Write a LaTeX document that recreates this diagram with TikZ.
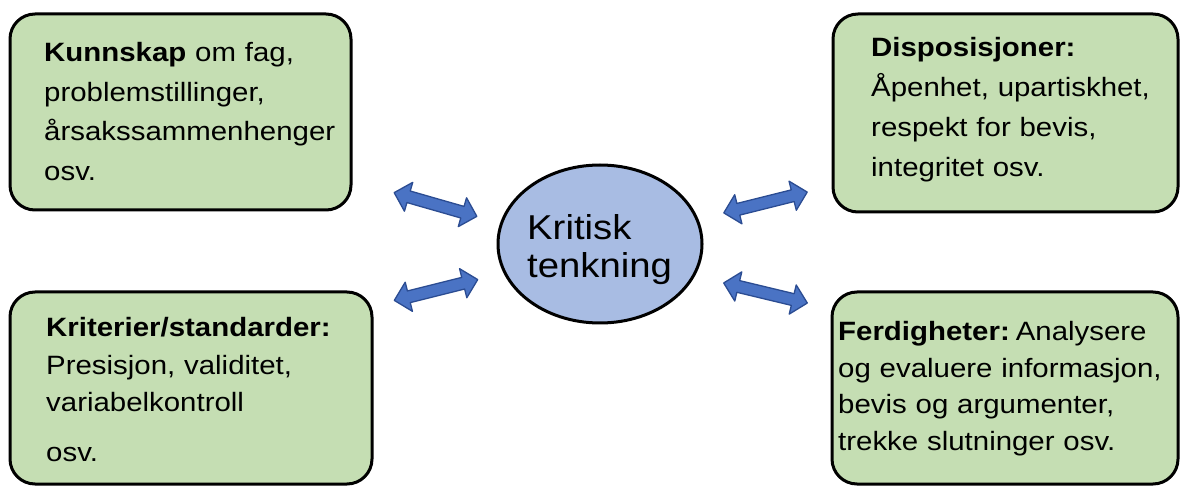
\documentclass[tikz,border=0pt]{standalone}
\usepackage{fontspec}
\setmainfont{Liberation Sans}[FakeStretch=1.11]
\usetikzlibrary{shapes.geometric}
\definecolor{boxgreen}{HTML}{C5DEB3}
\definecolor{ellblue}{HTML}{A8BCE3}
\definecolor{arrblue}{HTML}{4A73C4}
\definecolor{arrdark}{HTML}{2B4C92}
\begin{document}
\begin{tikzpicture}[x=1pt,y=-1pt,
  box/.style={draw=black, line width=3pt, fill=boxgreen, rounded corners=25pt, inner sep=0pt},
  boxtext/.style={anchor=base west, align=left, text width=360pt, inner sep=0pt},
  dblarrow/.pic={\filldraw[fill=arrblue, draw=arrdark, line width=1.3pt, line join=round]
     (-43,0) -- (-28,-15) -- (-28,-6) -- (28,-6) -- (28,-15) -- (43,0)
     -- (28,15) -- (28,6) -- (-28,6) -- (-28,15) -- cycle;}
]
\useasboundingbox (0,0) rectangle (1181,486);
\fill[white] (0,0) rectangle (1181,486);

% boxes
\node[box, minimum width=341pt, minimum height=196pt] (kunn) at (180.5,112) {};
\node[box, minimum width=362pt, minimum height=192pt] (krit) at (191,388) {};
\node[box, minimum width=345pt, minimum height=198pt] (disp) at (1005.5,113) {};
\node[box, minimum width=346pt, minimum height=192pt] (ferd) at (1005,388) {};

% texts
\node[boxtext, font=\fontsize{26.5}{39.5}\selectfont] (kunnT) at (44,62)
  {\textbf{Kunnskap} om fag,\\problemstillinger,\\årsakssammenhenger\\osv.};
\node[boxtext, font=\fontsize{26.5}{37.5}\selectfont] (kritT) at (46,337)
  {\textbf{Kriterier/standarder:}\\Presisjon, validitet,\\variabelkontroll\\[12pt]osv.};
\node[boxtext, font=\fontsize{26.5}{40}\selectfont] (dispT) at (871,57)
  {\textbf{Disposisjoner:}\\Åpenhet, upartiskhet,\\respekt for bevis,\\integritet osv.};
\node[boxtext, font=\fontsize{26.5}{36.5}\selectfont] (ferdT) at (838,341)
  {\textbf{Ferdigheter:}\hspace{6pt}Analysere\\og evaluere informasjon,\\bevis og argumenter,\\trekke slutninger osv.};

% centre ellipse
\node[ellipse, draw=black, line width=3pt, fill=ellblue, minimum width=204pt, minimum height=158pt, inner sep=0pt] (kt) at (600,244) {};
\node[anchor=base west, align=left, text width=200pt, inner sep=0pt, font=\fontsize{34.5}{38}\selectfont] (ktT) at (527,240) {Kritisk\\tenkning};

% arrows
\pic (a1) at (435.5,204.5) [rotate=-16] {dblarrow};
\pic (a2) at (765.5,202.5) [rotate=14] {dblarrow};
\pic (a3) at (436,290) [rotate=14] {dblarrow};
\pic (a4) at (765.5,293) [rotate=-13.5] {dblarrow};
\end{tikzpicture}
\end{document}
